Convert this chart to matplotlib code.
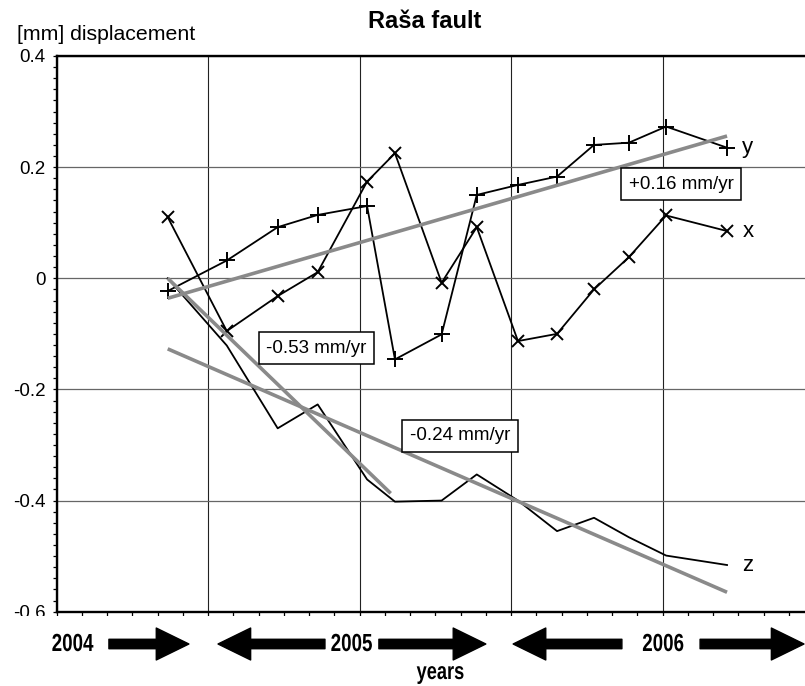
import matplotlib
matplotlib.use('Agg')
import matplotlib.pyplot as plt
from matplotlib.ticker import MultipleLocator, NullFormatter, FuncFormatter
from matplotlib.textpath import TextPath
from matplotlib.patches import PathPatch
from matplotlib.font_manager import FontProperties
from matplotlib.transforms import Affine2D

plt.rcParams['font.family'] = ['Liberation Sans', 'DejaVu Sans']
plt.rcParams['axes.unicode_minus'] = False

# ───── Data (decimal years, mm) ─────
epochs = [2004.867, 2005.062, 2005.230, 2005.362, 2005.525, 2005.617, 2005.771,
          2005.887, 2006.023, 2006.152, 2006.274, 2006.389, 2006.512, 2006.713]
disp_x = [0.110, -0.095, -0.032, 0.011, 0.174, 0.225, -0.008,
          0.092, -0.113, -0.100, -0.020, 0.038, 0.113, 0.085]
disp_y = [-0.023, 0.032, 0.092, 0.114, 0.130, -0.146, -0.101,
          0.150, 0.168, 0.183, 0.240, 0.244, 0.273, 0.235]
disp_z = [0.000, -0.121, -0.270, -0.227, -0.362, -0.402, -0.400,
          -0.353, -0.400, -0.455, -0.431, -0.466, -0.499, -0.516]

# trend lines: start/end epoch, start/end value, label, label position
trend_t = [[2004.867, 2006.713], [2004.867, 2005.603], [2004.867, 2006.713]]
trend_v = [[-0.036, 0.256], [0.000, -0.387], [-0.127, -0.565]]
trend_labels = ['+0.16 mm/yr', '-0.53 mm/yr', '-0.24 mm/yr']
trend_label_pos = [(2006.561, 0.169), (2005.358, -0.126), (2005.832, -0.283)]

year_labels = ['2004', '2005', '2006']
year_label_x = [2004.554, 2005.474, 2006.502]
# arrows (tail, tip) along the time band
arrows = [(2004.673, 2004.937), (2005.386, 2005.033), (2005.564, 2005.917),
          (2006.366, 2006.007), (2006.624, 2006.967)]

# ───── Layout (pixels -> figure fractions) ─────
W, H = 805, 686
PX_PER_YR = 303
x0_px, top_px, bot_px = 56.5, 56, 611.7
xmin = 2004.5
xmax = xmin + (W - x0_px) / PX_PER_YR

fig = plt.figure(figsize=(W / 100, H / 100), dpi=100)
ax = fig.add_axes([x0_px / W, 1 - bot_px / H, (W - x0_px) / W, (bot_px - top_px) / H])
ax.set_xlim(xmin, xmax)
ax.set_ylim(-0.6, 0.4)

ax.xaxis.set_major_locator(MultipleLocator(0.5))
ax.xaxis.set_minor_locator(MultipleLocator(1 / 12))
ax.xaxis.set_major_formatter(NullFormatter())
ax.yaxis.set_major_locator(MultipleLocator(0.2))
ax.yaxis.set_minor_locator(MultipleLocator(0.02))
ax.yaxis.set_major_formatter(FuncFormatter(lambda v, p: '0' if abs(v) < 1e-9 else f'{v:.1f}'))
ax.tick_params(which='both', direction='out', length=3, width=0.9, color='black')
ax.tick_params(axis='y', labelsize=13.5, pad=5)

ax.grid(axis='x', which='major', color='#222222', lw=0.8)
ax.grid(axis='y', which='major', color='#666666', lw=0.9)
ax.set_axisbelow(True)
for side in ['left', 'top', 'bottom']:
    ax.spines[side].set_linewidth(1.7)
ax.spines['right'].set_visible(False)

# ───── Series ─────
ax.plot(epochs, disp_x, color='black', lw=1.3, marker='x', ms=8, mew=1.4, zorder=2)
ax.plot(epochs, disp_y, color='black', lw=1.3, marker='+', ms=11, mew=1.4, zorder=2)
ax.plot(epochs, disp_z, color='black', lw=1.3, zorder=2)

for name, vals in zip(['x', 'y', 'z'], [disp_x, disp_y, disp_z]):
    ax.annotate(name, (epochs[-1], vals[-1]), xytext=(11, 0), textcoords='offset points',
                ha='left', va='center', fontsize=16)

for t, v in zip(trend_t, trend_v):
    ax.plot(t, v, color='#8a8a8a', lw=2.6, solid_capstyle='butt', zorder=3)

for lab, (tx, ty) in zip(trend_labels, trend_label_pos):
    ax.text(tx, ty, lab, ha='center', va='center', fontsize=13.5, zorder=5,
            bbox=dict(boxstyle='square,pad=0.4', fc='white', ec='black', lw=1.1))

# ───── Titles ─────
fig.text(425 / W, 1 - 21 / H, 'Raša fault', ha='center', va='center',
         fontsize=17, fontweight='bold')
fig.text(17 / W, 1 - 35 / H, '[mm] displacement', ha='left', va='center', fontsize=15.3)

# ───── Year band with arrows ─────
band_h = 70.5
bx = fig.add_axes([0, 0, 1, band_h / H], zorder=3)
bx.set_xlim(xmin - x0_px / PX_PER_YR, xmax)
bx.set_ylim(0, 1)
bx.set_facecolor('white')
for s in bx.spines.values():
    s.set_visible(False)
bx.set_xticks([])
bx.set_yticks([])

# condensed text: squeeze a normal glyph path horizontally
cond_font = FontProperties(family='Liberation Sans', weight='bold')


def condensed_text(x_year, baseline_px, s, em_px, squeeze=0.76):
    path = TextPath((0, 0), s, size=em_px, prop=cond_font)
    ext = path.get_extents()
    xd = (x_year - bx.get_xlim()[0]) * PX_PER_YR
    tr = Affine2D().translate(-(ext.x0 + ext.x1) / 2, 0).scale(squeeze, 1)
    tr = tr.translate(xd, H - baseline_px)
    patch = PathPatch(tr.transform_path(path), fc='black', ec='none', lw=0)
    patch.set_transform(Affine2D())
    fig.add_artist(patch)
    patch.set_zorder(4)


for lab, lx in zip(year_labels, year_label_x):
    condensed_text(lx, 651, lab, 24.7)
condensed_text(2005.766, 679, 'years', 24)

arrow_y = (H - 644) / band_h
for tail, tip in arrows:
    bx.annotate('', xy=(tip, arrow_y), xytext=(tail, arrow_y),
                arrowprops=dict(arrowstyle='simple,head_length=23.5,head_width=23,tail_width=6.8',
                                mutation_scale=1, color='black', shrinkA=0, shrinkB=0))

fig.savefig('out.png', dpi=100)
